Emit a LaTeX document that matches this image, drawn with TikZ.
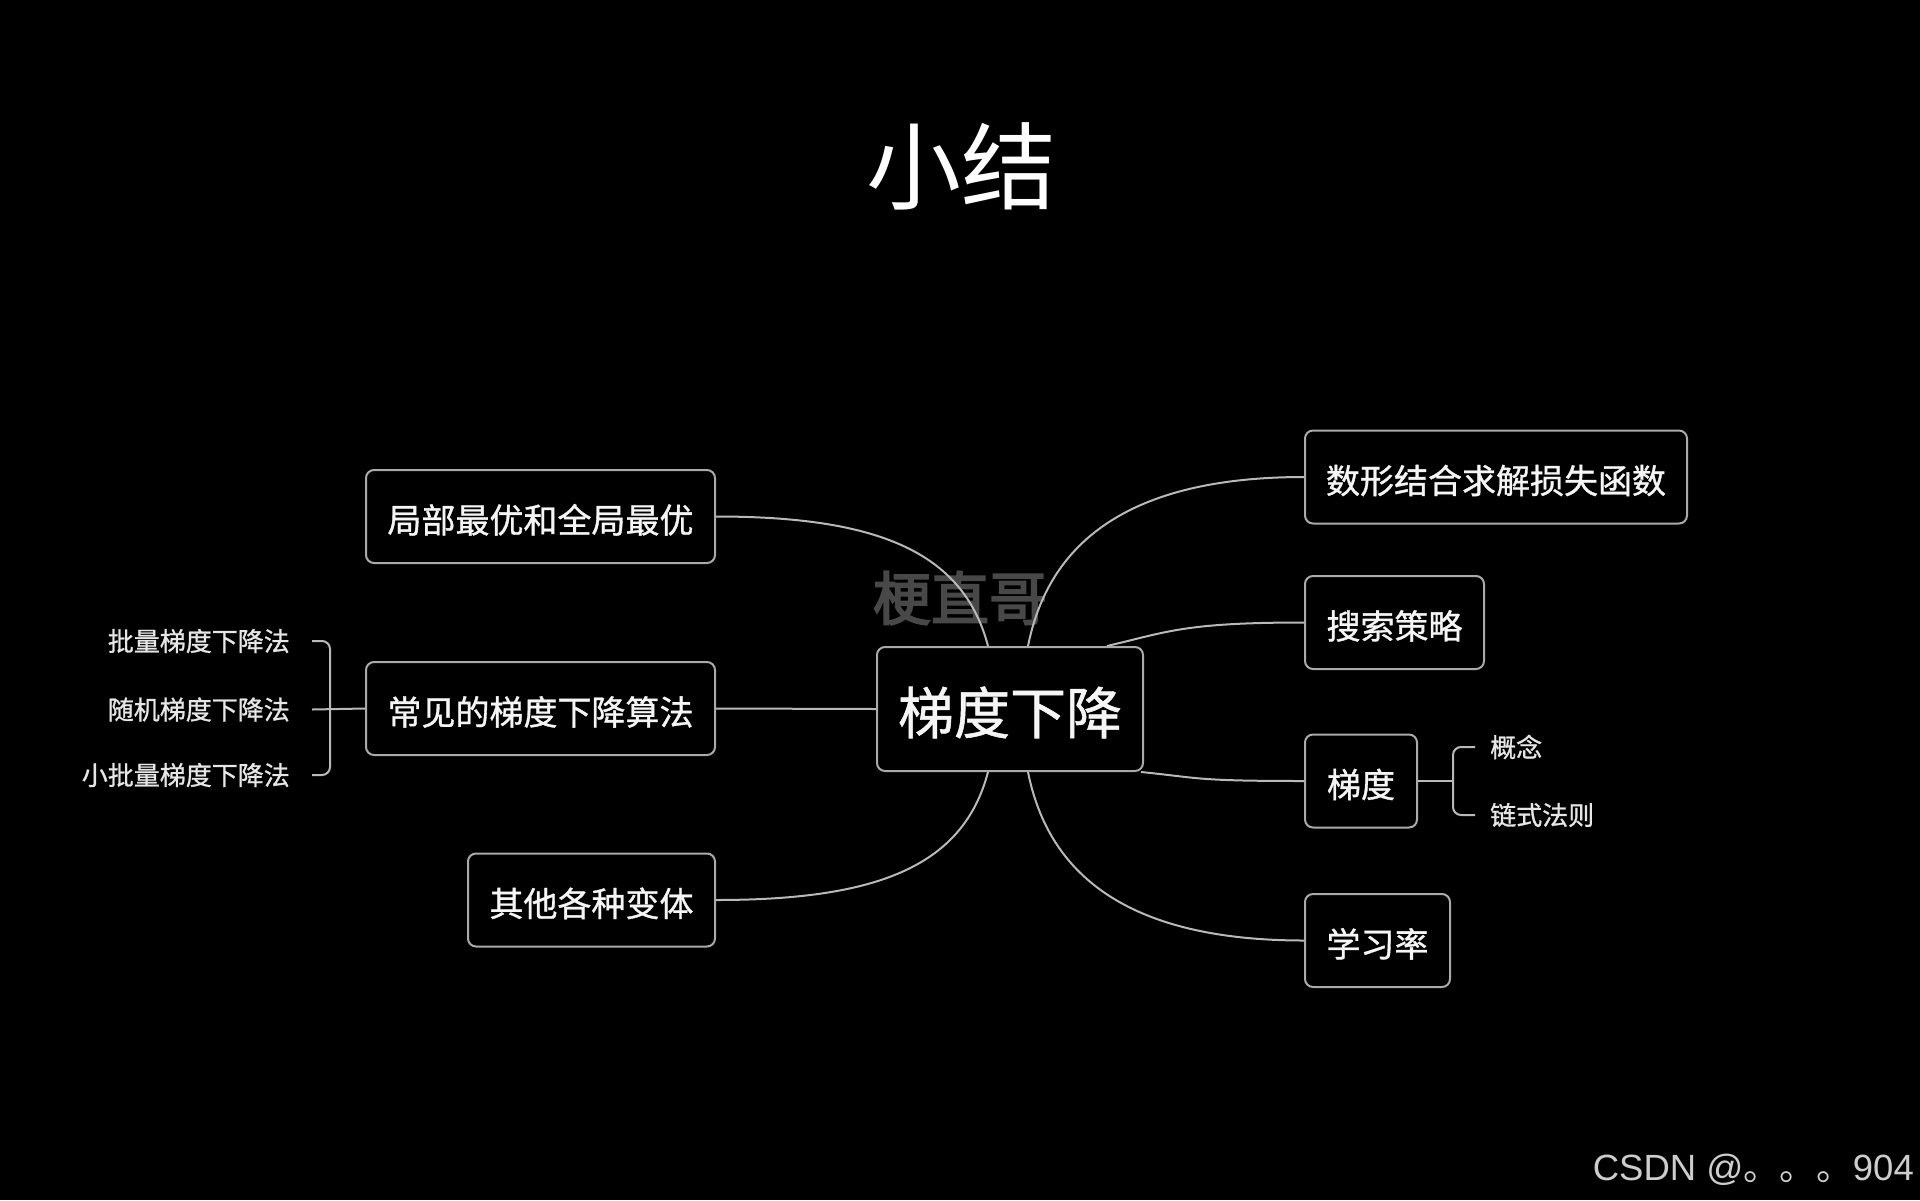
\documentclass[tikz,border=0pt]{standalone}
\usepackage{fontspec}
\setmainfont{Noto Sans CJK SC}
\newfontfamily\latinsans{Liberation Sans}
\newfontfamily\cjk{Noto Sans CJK SC}
\newfontfamily\cjkmed[FakeBold=1]{Noto Sans CJK SC}
\newfontfamily\cjkbold[FakeBold=3]{Noto Sans CJK SC}
\definecolor{boxline}{RGB}{170,170,170}
\definecolor{linecol}{RGB}{185,185,185}
\definecolor{wmcol}{RGB}{72,72,72}
\definecolor{txt}{RGB}{245,245,245}
\definecolor{subtxt}{RGB}{230,230,230}
\definecolor{csdncol}{RGB}{205,205,205}
\begin{document}
\begin{tikzpicture}[x=1pt,y=-1pt,
  box/.style={draw=boxline, line width=2pt, rounded corners=8pt, fill=black, text=txt,
    inner sep=0pt, align=center, font=\fontsize{34}{40}\cjkmed, minimum height=93pt,
    text height=34pt, text depth=1.2pt},
  conn/.style={draw=linecol, line width=2pt},
  sub/.style={text=subtxt, font=\fontsize{26}{30}\cjkmed, inner ysep=0pt}]
\useasboundingbox[fill=black] (0,0) rectangle (1920,1200);

% title and watermarks
\node[text=white, font=\fontsize{95}{100}\selectfont] (title) at (961,166) {小结};
\node[text=wmcol, font=\fontsize{58}{62}\cjkbold] (wm) at (960,598) {梗直哥};

% centre
\node[box, minimum width=266pt, minimum height=124pt, font=\fontsize{56}{62}\cjkmed,
  text height=52pt, text depth=2.4pt] (c) at (1010,709) {梯度下降};

% left branch
\node[box, minimum width=349pt] (n1) at (540.5,516.5) {局部最优和全局最优};
\node[box, minimum width=349pt] (n2) at (540.5,708.5) {常见的梯度下降算法};
\node[box, minimum width=247pt] (n3) at (591.5,900) {其他各种变体};

% right branch
\node[box, minimum width=382pt] (r1) at (1496,477) {数形结合求解损失函数};
\node[box, minimum width=179pt] (r2) at (1394.5,622.5) {搜索策略};
\node[box, minimum width=112pt] (r3) at (1361,781) {梯度};
\node[box, minimum width=145pt] (r4) at (1377.5,940.5) {学习率};

% sub labels
\node[sub, anchor=east, inner xsep=22pt] (b1) at (312,641) {批量梯度下降法};
\node[sub, anchor=east, inner xsep=22pt] (b2) at (312,709.5) {随机梯度下降法};
\node[sub, anchor=east, inner xsep=22pt] (b3) at (312,775) {小批量梯度下降法};
\node[sub, anchor=west, inner xsep=15pt] (g1) at (1475,747) {概念};
\node[sub, anchor=west, inner xsep=15pt] (g2) at (1475,815) {链式法则};

\coordinate (jl) at (330,708.5);
\coordinate (jr) at (1453,781);

% connectors
\draw[conn] (n1.east) .. controls +(160,0) and +(-25,-95) .. ([xshift=112pt]c.north west);
\draw[conn] (n2.east) -- (c.west);
\draw[conn] (n3.east) .. controls +(160,0) and +(-25,95) .. ([xshift=112pt]c.south west);
\draw[conn] (r1.west) .. controls +(-180,0) and +(20,-100) .. ([xshift=152pt]c.north west);
\draw[conn] (r2.west) .. controls +(-120,0) and +(60,-14) .. ([xshift=231pt]c.north west);
\draw[conn] (r3.west) .. controls +(-110,0) and +(60,6) .. ([xshift=-3pt]c.south east);
\draw[conn] (r4.west) .. controls +(-180,0) and +(20,100) .. ([xshift=152pt]c.south west);

\draw[conn, rounded corners=8pt] (b1.east) -| (jl) |- (b3.east);
\draw[conn] (b2.east) -- (n2.west);
\draw[conn, rounded corners=8pt] (g1.west) -| (jr) |- (g2.west);
\draw[conn] (r3.east) -- (jr);

% footer
\node[anchor=base east, inner sep=0pt, text=csdncol, font=\fontsize{36.5}{40}\selectfont] (csdn) at (1914,1180) {\latinsans CSDN @\cjk 。。。\latinsans 904};
\end{tikzpicture}
\end{document}
